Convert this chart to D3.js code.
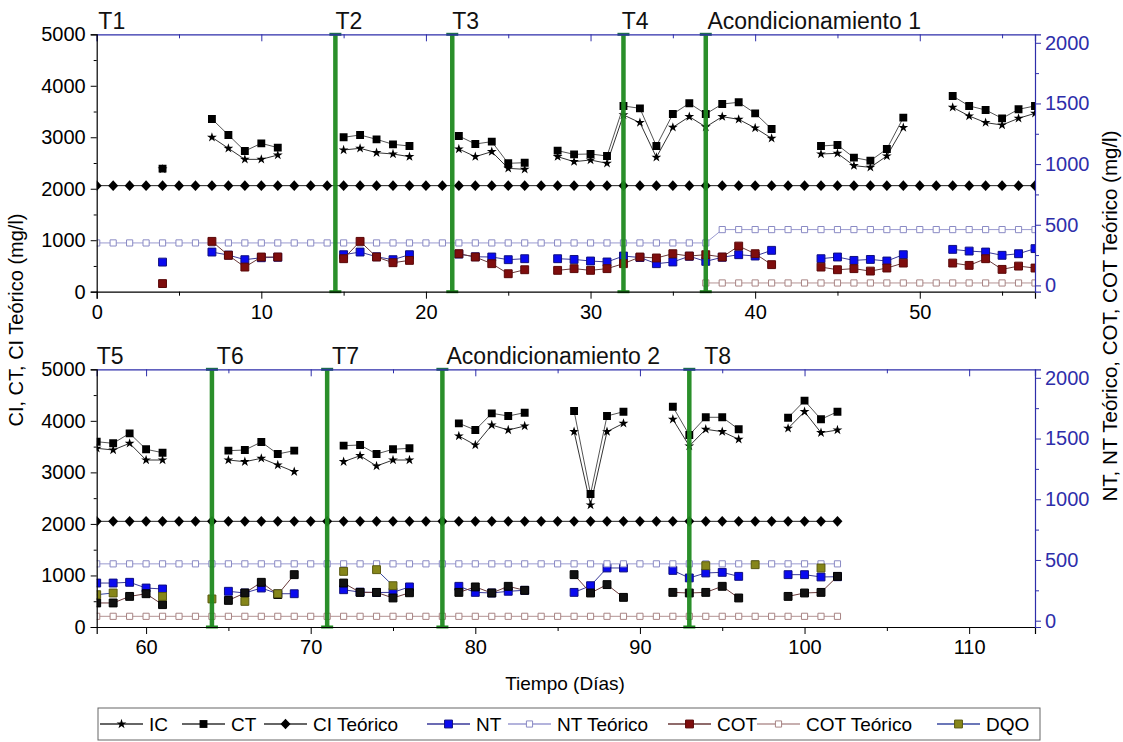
<!DOCTYPE html>
<html>
<head>
<meta charset="utf-8">
<script src="https://cdn.jsdelivr.net/npm/d3@7"></script>
<style>
  html, body { margin: 0; padding: 0; background: #fff; }
  svg { display: block; font-family: "Liberation Sans", Arial, sans-serif; }
</style>
</head>
<body>
<svg id="chart" width="1123" height="742"></svg>
<script>
// ---------- Panel 1 (days 0-57) ----------
const daysA = [4, 7, 8, 9, 10, 11, 15, 16, 17, 18, 19, 22, 23, 24, 25, 26,
  28, 29, 30, 31, 32, 33, 34, 35, 36, 37, 38, 39, 40, 41, 44, 45, 46, 47, 48, 49,
  52, 53, 54, 55, 56, 57];
const icA = [2380, 2999, 2785, 2571, 2571, 2655, 2753, 2785, 2700, 2675, 2623,
  2772, 2623, 2720, 2396, 2377, 2623, 2526, 2558, 2494, 3433, 3284, 2610, 3193,
  3400, 3200, 3400, 3348, 3180, 2979, 2675, 2688, 2448, 2416, 2636, 3187,
  3582, 3413, 3284, 3238, 3368, 3465];
const ctA = [2390, 3355, 3044, 2733, 2882, 2798, 2999, 3044, 2960, 2863, 2830,
  3025, 2869, 2915, 2494, 2506, 2740, 2668, 2675, 2636, 3608, 3562, 2830, 3452,
  3660, 3452, 3646, 3679, 3465, 3161, 2830, 2850, 2604, 2545, 2772, 3381,
  3802, 3608, 3530, 3368, 3543, 3608];
const ntA = [192, 275, 250, 212, 228, 232, 253, 275, 236, 212, 253,
  258, 236, 234, 212, 220, 220, 214, 201, 193, 242, 230, 179, 193,
  240, 198, 232, 253, 242, 289, 220, 234, 206, 214, 201, 253,
  297, 283, 275, 248, 261, 303];
const cotA = [15, 363, 248, 151, 234, 234, 220, 363, 234, 187, 206,
  261, 234, 179, 96, 129, 124, 138, 124, 138, 179, 234, 226, 261,
  242, 253, 234, 324, 261, 171, 151, 129, 138, 118, 143, 184,
  184, 165, 220, 132, 159, 143];
// theoretical levels: [first day, last day, value]
const ciTeoricoA = [[0, 57, 2060]];
const ntTeoricoA = [[0, 37, 350], [38, 57, 460]];
const cotTeoricoA = [[37, 57, 20]];
const stagesA = [14.5, 21.6, 32, 37];
const labelsA = [["T1", 0.1], ["T2", 14.5], ["T3", 21.6], ["T4", 31.9], ["Acondicionamiento 1", 37.1]];

// ---------- Panel 2 (days 57-114) ----------
const daysB = [57, 58, 59, 60, 61, 64, 65, 66, 67, 68, 69, 72, 73, 74, 75, 76,
  79, 80, 81, 82, 83, 86, 87, 88, 89, 92, 93, 94, 95, 96, 97, 99, 100, 101, 102];
const icB = [3467, 3434, 3564, 3240, 3240, null, 3240, 3207, 3273, 3143, 3013,
  3207, 3324, 3124, 3240, 3240, 3706, 3531, 3919, 3822, 3900,
  3790, 2367, 3790, 3952, 4030, 3512, 3836, 3790, 3642, null, 3855, 4177, 3770, 3822];
const ctB = [3595, 3564, 3758, 3448, 3382, null, 3421, 3434, 3589, 3357, 3421,
  3518, 3531, 3357, 3448, 3467, 3952, 3822, 4146, 4094, 4158,
  4191, 2581, 4094, 4177, 4274, 3725, 4069, 4069, 3836, null, 4061, 4391, 4030, 4177];
const ntB = [310, 310, 316, 269, 261, null, 242, 228, 269, 222, 222,
  255, 235, 232, 233, 278, 283, 233, 228, 242, 250,
  233, 288, 434, 434, 414, 352, 393, 398, 365, null, 379, 379, 360, 362];
const cotB = [146, 146, 200, 222, 132, null, 167, 228, 316, 215, 379,
  310, 233, 233, 187, 230, 233, 278, 228, 283, 250,
  379, 228, 297, 192, 233, 228, 233, 283, 187, null, 200, 228, 233, 365];
const dqoB = [214, 228, null, null, 200, 179, null, 159, null, 222, null,
  406, null, 420, 288, null, null, null, null, null, null,
  null, null, null, null, null, null, 453, null, null, 461, null, null, 434, null];
const ciTeoricoB = [[57, 102, 2050]];
const ntTeoricoB = [[57, 102, 468]];
const cotTeoricoB = [[57, 102, 36]];
const stagesB = [64, 71, 78, 93];
const labelsB = [["T5", 57], ["T6", 64.3], ["T7", 71.3], ["Acondicionamiento 2", 78.25], ["T8", 93.9]];

// ---------- legend ----------
const legendNames = ["IC", "CT", "CI Teórico", "NT", "NT Teórico", "COT", "COT Teórico", "DQO"];

const BLUE_AXIS = "#2e2eaa";
const GREEN = "#1f8a1f";

const svg = d3.select("#chart");
const plotLeft = 96.7, plotRight = 1035;

// marker shapes
const diamondPath = "M0,-5.3L5,0L0,5.3L-5,0Z";
const star = d3.symbol().type(d3.symbolStar).size(30)();
const sq8 = d3.symbol().type(d3.symbolSquare).size(62)();
const sq7 = d3.symbol().type(d3.symbolSquare).size(38)();

const styles = {
  ic:    { path: star, fill: "#000", stroke: "none", line: "#333" },
  ct:    { path: sq8, fill: "#000", stroke: "none", line: "#555" },
  ciT:   { path: diamondPath, fill: "#000", stroke: "none", line: "#222" },
  nt:    { path: sq8, fill: "#0a0af0", stroke: "#101080", line: "#3a3a9a" },
  ntT:   { path: sq7, fill: "#fff", stroke: "#8a8ac4", line: "#9a9ad0" },
  cot:   { path: sq8, fill: "#7e0d0d", stroke: "#5a0808", line: "#6a3a3a" },
  cotT:  { path: sq7, fill: "#fff", stroke: "#a88484", line: "#b49494" },
  dqo:   { path: sq8, fill: "#86861a", stroke: "#5a5a10", line: "#3a4aa0" }
};

function toPoints(days, vals) {
  const out = [];
  days.forEach((d, i) => {
    const v = vals[i];
    if (v == null) return;
    if (out.length && d - out[out.length - 1].d > 1) out.push({ d: null, v: null });
    out.push({ d, v });
  });
  return out;
}
function levelPoints(segs) {
  const out = [];
  segs.forEach(([a, b, v]) => { for (let d = a; d <= b; d++) out.push({ d, v }); });
  return out;
}

function drawPanel(cfg) {
  const { top, bottom, xDomain, id } = cfg;
  const x = d3.scaleLinear().domain(xDomain).range([plotLeft, plotRight]);
  const yL = d3.scaleLinear().domain([0, 5000]).range([bottom, top]);
  const yR = d3.scaleLinear().domain([-52, 2070]).range([bottom, top]);
  const fmt = d3.format("d");

  const g = svg.append("g");
  g.append("clipPath").attr("id", "clip" + id)
    .append("rect").attr("x", plotLeft).attr("y", top)
    .attr("width", plotRight - plotLeft).attr("height", bottom - top);

  const data = g.append("g").attr("clip-path", `url(#clip${id})`);

  function series(points, st, y) {
    const line = d3.line().defined(p => p.v != null).x(p => x(p.d)).y(p => y(p.v));
    data.append("path").attr("d", line(points)).attr("fill", "none")
      .attr("stroke", st.line).attr("stroke-width", 1);
    data.append("g").selectAll("path").data(points.filter(p => p.v != null)).join("path")
      .attr("d", st.path)
      .attr("transform", p => `translate(${x(p.d)},${y(p.v)})`)
      .attr("fill", st.fill)
      .attr("stroke", st.stroke)
      .attr("stroke-width", st.stroke === "none" ? 0 : 1);
  }

  series(toPoints(cfg.days, cfg.ic), styles.ic, yL);
  series(toPoints(cfg.days, cfg.ct), styles.ct, yL);
  series(levelPoints(cfg.ciT), styles.ciT, yL);
  series(toPoints(cfg.days, cfg.nt), styles.nt, yR);
  series(levelPoints(cfg.ntT), styles.ntT, yR);
  series(toPoints(cfg.days, cfg.cot), Object.assign({}, styles.cot, cfg.cotStyle || {}), yR);
  series(levelPoints(cfg.cotT), styles.cotT, yR);
  if (cfg.dqo) series(toPoints(cfg.days, cfg.dqo), styles.dqo, yR);

  // stage separators
  const sep = g.append("g");
  cfg.stages.forEach(d => {
    sep.append("line").attr("x1", x(d)).attr("x2", x(d)).attr("y1", top).attr("y2", bottom)
      .attr("stroke", GREEN).attr("stroke-width", 4.5).attr("opacity", 0.95);
    [top, bottom].forEach(yy => sep.append("rect")
      .attr("x", x(d) - 6).attr("y", yy - 1.5).attr("width", 12).attr("height", 3)
      .attr("fill", yy === top ? "#1d6a50" : GREEN));
  });

  // axes
  const xMaj = d3.range(Math.ceil(xDomain[0] / 10) * 10, xDomain[1] + 0.01, 10);
  const xMin = d3.range(Math.ceil(xDomain[0] / 5) * 5, xDomain[1] + 0.01, 5).filter(v => v % 10 !== 0);

  const axB = g.append("g").attr("transform", `translate(0,${bottom})`)
    .call(d3.axisBottom(x).tickValues(xMaj).tickSize(7).tickPadding(6).tickFormat(fmt));
  g.append("g").attr("transform", `translate(0,${bottom})`)
    .call(d3.axisBottom(x).tickValues(xMin).tickSize(4).tickFormat("")).select(".domain").remove();

  const axT = g.append("g").attr("transform", `translate(0,${top})`)
    .call(d3.axisBottom(x).tickValues(xMaj).tickSize(7).tickFormat(""));
  const axT2 = g.append("g").attr("transform", `translate(0,${top})`)
    .call(d3.axisBottom(x).tickValues(xMin).tickSize(4).tickFormat(""));
  axT2.select(".domain").remove();
  axT.selectAll("path,line").attr("stroke", BLUE_AXIS);
  axT2.selectAll("line").attr("stroke", BLUE_AXIS);

  const axL = g.append("g").attr("transform", `translate(${plotLeft},0)`)
    .call(d3.axisLeft(yL).tickValues(d3.range(0, 5001, 1000)).tickSize(6).tickPadding(5).tickFormat(fmt));
  g.append("g").attr("transform", `translate(${plotLeft},0)`)
    .call(d3.axisLeft(yL).tickValues(d3.range(500, 5000, 1000)).tickSize(3).tickFormat(""))
    .select(".domain").remove();

  const axR = g.append("g").attr("transform", `translate(${plotRight},0)`)
    .call(d3.axisRight(yR).tickValues(d3.range(0, 2001, 500)).tickSize(6).tickPadding(4).tickFormat(fmt));
  const axR2 = g.append("g").attr("transform", `translate(${plotRight},0)`)
    .call(d3.axisRight(yR).tickValues([250, 750, 1250, 1750]).tickSize(4).tickFormat(""));
  axR2.select(".domain").remove();
  axR.selectAll("path,line").attr("stroke", BLUE_AXIS);
  axR2.selectAll("line").attr("stroke", BLUE_AXIS);
  axR.selectAll("text").attr("fill", BLUE_AXIS);

  [axB, axL, axR].forEach(a => a.selectAll("text").attr("font-size", 20).attr("font-family", "Liberation Sans, Arial, sans-serif"));
  g.selectAll(".domain").attr("stroke-width", 1.2);

  // stage labels
  g.append("g").selectAll("text").data(cfg.labels).join("text")
    .attr("x", d => x(d[1])).attr("y", top - 5)
    .attr("font-size", 23).attr("fill", "#111")
    .text(d => d[0]);
}

drawPanel({
  id: "A", top: 34.3, bottom: 291.7, xDomain: [0, 57],
  days: daysA, ic: icA, ct: ctA, nt: ntA, cot: cotA,
  ciT: ciTeoricoA, ntT: ntTeoricoA, cotT: cotTeoricoA,
  stages: stagesA, labels: labelsA
});
drawPanel({
  id: "B", top: 369.3, bottom: 627, xDomain: [57, 114],
  days: daysB, ic: icB, ct: ctB, nt: ntB, cot: cotB, dqo: dqoB,
  cotStyle: { fill: "#111", stroke: "#000", line: "#6a3a3a" },
  ciT: ciTeoricoB, ntT: ntTeoricoB, cotT: cotTeoricoB,
  stages: stagesB, labels: labelsB
});

// axis titles
svg.append("text").attr("transform", "translate(23,320) rotate(-90)")
  .attr("text-anchor", "middle").attr("font-size", 20).text("CI, CT, CI Teórico (mg/l)");
svg.append("text").attr("transform", "translate(1117,316) rotate(-90)")
  .attr("text-anchor", "middle").attr("font-size", 20.5).text("NT, NT Teórico, COT, COT Teórico (mg/l)");
svg.append("text").attr("x", 565).attr("y", 690)
  .attr("text-anchor", "middle").attr("font-size", 19).text("Tiempo (Días)");

// legend
const legKeys = ["ic", "ct", "ciT", "nt", "ntT", "cot", "cotT", "dqo"];
const legX = [100, 182, 264, 427, 508, 668, 757, 937];
const lg = svg.append("g");
lg.append("rect").attr("x", 98).attr("y", 708).attr("width", 942).attr("height", 32)
  .attr("fill", "#fff").attr("stroke", "#666").attr("stroke-width", 1);
legKeys.forEach((k, i) => {
  const st = styles[k];
  const x0 = legX[i], yy = 724;
  lg.append("line").attr("x1", x0).attr("x2", x0 + 43).attr("y1", yy).attr("y2", yy)
    .attr("stroke", k === "ic" || k === "ct" || k === "ciT" ? "#333" : st.line).attr("stroke-width", 1.5);
  lg.append("path").attr("d", st.path).attr("transform", `translate(${x0 + 21.5},${yy})`)
    .attr("fill", st.fill).attr("stroke", st.stroke).attr("stroke-width", st.stroke === "none" ? 0 : 1);
  lg.append("text").attr("x", x0 + 49).attr("y", yy + 6.5).attr("font-size", 19)
    .text(legendNames[i]);
});
</script>
</body>
</html>
